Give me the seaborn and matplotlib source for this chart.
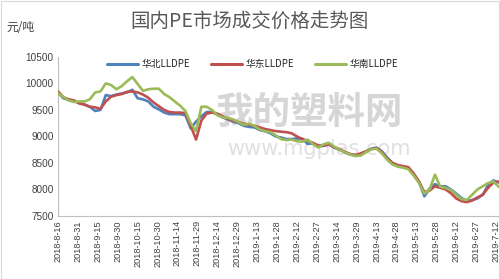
import matplotlib
matplotlib.use("Agg")
import matplotlib.pyplot as plt
import seaborn as sns
import pandas as pd
from matplotlib.patches import Rectangle
from matplotlib.lines import Line2D

sns.set_theme(style="white")
plt.rcParams['font.family'] = ['Noto Sans CJK SC', 'DejaVu Sans']

title = "国内PE市场成交价格走势图"
unit = "元/吨"
series_names = ["华北LLDPE", "华东LLDPE", "华南LLDPE"]
colors = ["#4f81bd", "#c0504d", "#9bbb59"]

dates = pd.date_range("2018-08-16", periods=84, freq="4D")

north = [9830, 9720, 9690, 9660, 9640, 9600, 9560, 9480, 9500, 9780,
         9760, 9790, 9810, 9830, 9880, 9720, 9700, 9660, 9560, 9510,
         9450, 9420, 9420, 9420, 9400, 9150, 9280, 9380, 9460, 9460,
         9420, 9360, 9320, 9280, 9250, 9200, 9180, 9170, 9120, 9100,
         9060, 9000, 8980, 8950, 8950, 8960, 8960, 8860, 8870, 8810,
         8820, 8850, 8790, 8750, 8700, 8660, 8640, 8650, 8710, 8770,
         8790, 8720, 8600, 8500, 8450, 8420, 8400, 8290, 8140, 7870,
         8020, 8100, 8060, 8060, 8000, 7920, 7840, 7780, 7800, 7830,
         7900, 8080, 8170, 8130]
east = [9850, 9740, 9700, 9680, 9620, 9600, 9560, 9550, 9520, 9660,
        9750, 9780, 9800, 9840, 9850, 9830, 9790, 9730, 9640, 9570,
        9500, 9460, 9450, 9450, 9440, 9200, 8940, 9300, 9430, 9450,
        9430, 9380, 9330, 9300, 9270, 9240, 9220, 9200, 9170, 9140,
        9120, 9100, 9090, 9080, 9060, 9000, 8950, 8920, 8880, 8830,
        8830, 8850, 8800, 8760, 8710, 8670, 8650, 8680, 8720, 8760,
        8780, 8700, 8580, 8500, 8460, 8440, 8420, 8300, 8150, 7950,
        7980, 8060, 8030, 8000, 7930, 7830, 7780, 7760, 7790, 7850,
        7900, 8030, 8130, 8150]
south = [9820, 9740, 9680, 9650, 9660, 9660, 9700, 9830, 9850, 10000,
         9970, 9890, 9950, 10040, 10120, 9990, 9860, 9890, 9900, 9900,
         9800, 9740, 9660, 9580, 9480, 9250, 9100, 9560, 9560, 9500,
         9400, 9360, 9350, 9320, 9270, 9220, 9240, 9200, 9130, 9100,
         9080, 9020, 8950, 8930, 8940, 8910, 8900, 8940, 8860, 8790,
         8850, 8880, 8810, 8750, 8700, 8660, 8630, 8640, 8700, 8760,
         8770, 8680, 8560, 8470, 8430, 8410, 8380, 8260, 8120, 7920,
         8000, 8280, 8050, 8030, 7990, 7900, 7820, 7800, 7900, 8000,
         8060, 8120, 8150, 8050]

y_ticks = [7500, 8000, 8500, 9000, 9500, 10000, 10500]
x_tick_labels = ["2018-8-16", "2018-8-31", "2018-9-15", "2018-9-30", "2018-10-15",
                 "2018-10-30", "2018-11-14", "2018-11-29", "2018-12-14", "2018-12-29",
                 "2019-1-13", "2019-1-28", "2019-2-12", "2019-2-27", "2019-3-14",
                 "2019-3-29", "2019-4-13", "2019-4-28", "2019-5-13", "2019-5-28",
                 "2019-6-12", "2019-6-27", "2019-7-12"]

df = pd.DataFrame({
    "date": list(dates) * 3,
    "price": north + east + south,
    "series": [series_names[0]] * len(dates) + [series_names[1]] * len(dates) + [series_names[2]] * len(dates),
})

fig = plt.figure(figsize=(5.0, 2.79), dpi=100)
fig.patch.set_facecolor("white")
ax = fig.add_axes([0.116, 0.226, 0.884, 0.570])

# watermark
ax.text(0.57, 0.65, "我的塑料网", transform=ax.transAxes, fontsize=27, color="#d6d6d6",
        ha="center", va="center", fontweight="bold", zorder=0)
ax.text(0.59, 0.42, "www.mgplas.com", transform=ax.transAxes, fontsize=15, color="#e0e0e0",
        ha="center", va="center", zorder=0, family=["DejaVu Sans"])

sns.lineplot(data=df, x="date", y="price", hue="series", hue_order=series_names,
             palette=colors, linewidth=1.9, ax=ax, legend=False, zorder=3)

ax.set_ylim(7500, 10500)
ax.set_xlim(pd.Timestamp("2018-08-16"), pd.Timestamp("2019-07-15"))
ax.set_yticks(y_ticks)
ax.set_yticklabels([str(v) for v in y_ticks], fontsize=7.2, color="#404040",
                   family=["Liberation Sans"])
tick_dates = [pd.Timestamp(s) for s in x_tick_labels]
ax.set_xticks(tick_dates)
ax.set_xticklabels(x_tick_labels, rotation=90, fontsize=6.6, color="#404040",
                   family=["Liberation Sans"])
ax.tick_params(axis="both", length=0, pad=3)
ax.set_xlabel("")
ax.set_ylabel("")
for s in ["top", "right"]:
    ax.spines[s].set_visible(False)
for s in ["left", "bottom"]:
    ax.spines[s].set_color("#bfbfbf")
    ax.spines[s].set_linewidth(0.8)
ax.grid(False)

# legend
handles = [Line2D([0], [0], color=c, lw=2.2) for c in colors]
ax.legend(handles, series_names, loc="upper center", bbox_to_anchor=(0.44, 1.04), ncol=3,
          frameon=False, fontsize=7, handlelength=3.2, columnspacing=2.2, handletextpad=0.3)

fig.text(0.5, 0.925, title, ha="center", va="center", fontsize=14, color="#595959")
fig.text(0.012, 0.90, unit, ha="left", va="center", fontsize=8.5, color="#404040")

fig.patches.append(Rectangle((0.001, 0.001), 0.997, 0.996, transform=fig.transFigure,
                             fill=False, edgecolor="#d9d9d9", linewidth=0.8))

fig.savefig("out.png", dpi=100)
